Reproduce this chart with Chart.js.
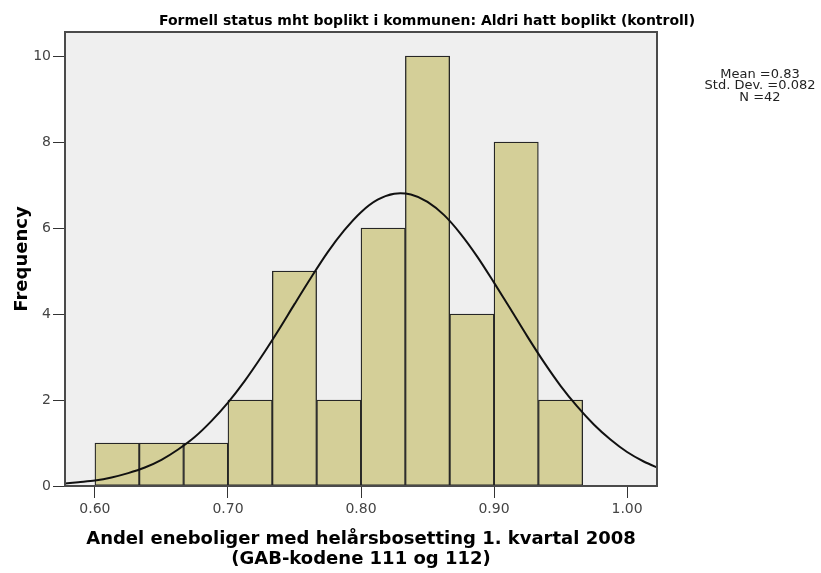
<!DOCTYPE html>
<html><head><meta charset="utf-8">
<script src="https://cdn.jsdelivr.net/npm/chart.js@4/dist/chart.umd.min.js"></script>
<style>html,body{margin:0;padding:0;background:#fff}#wrap{width:821px;height:573px}</style>
</head><body><div id="wrap"><canvas id="c" width="821" height="573"></canvas></div>
<script>
const chartTitle = 'Formell status mht boplikt i kommunen: Aldri hatt boplikt (kontroll)';
const xTitle = ['Andel eneboliger med helårsbosetting 1. kvartal 2008', '(GAB-kodene 111 og 112)'];
const yTitle = 'Frequency';
const statsLines = ['Mean =0.83', 'Std. Dev. =0.082', 'N =42'];

// histogram bins (edges) and counts
const binEdges = [0.6000, 0.6333, 0.6667, 0.7000, 0.7333, 0.7667, 0.8000, 0.8333, 0.8667, 0.9000, 0.9333, 0.9667];
const frequencies = [1, 1, 1, 2, 5, 2, 6, 10, 4, 8, 2];

// fitted normal curve
const curveX = [0.5750, 0.5875, 0.6000, 0.6125, 0.6250, 0.6375, 0.6500, 0.6625, 0.6750, 0.6875,
                0.7000, 0.7125, 0.7250, 0.7375, 0.7500, 0.7625, 0.7750, 0.7875, 0.8000, 0.8125,
                0.8250, 0.8375, 0.8500, 0.8625, 0.8750, 0.8875, 0.9000, 0.9125, 0.9250, 0.9375,
                0.9500, 0.9625, 0.9750, 0.9875, 1.0000, 1.0125, 1.0250];
const curveY = [0.05, 0.09, 0.13, 0.20, 0.30, 0.43, 0.61, 0.85, 1.14, 1.51,
                1.94, 2.44, 3.00, 3.60, 4.23, 4.85, 5.44, 5.95, 6.37, 6.66,
                6.80, 6.78, 6.61, 6.30, 5.86, 5.33, 4.73, 4.11, 3.48, 2.88,
                2.33, 1.85, 1.43, 1.08, 0.79, 0.57, 0.40];

const xTicks = [0.60, 0.70, 0.80, 0.90, 1.00];
const yTicks = [0, 2, 4, 6, 8, 10];

Chart.defaults.font.family = "'DejaVu Sans', sans-serif";

const deco = {
  id: 'deco',
  beforeDraw(chart) {
    const {ctx, chartArea: a} = chart;
    ctx.save();
    ctx.fillStyle = '#ffffff';
    ctx.fillRect(0, 0, chart.width, chart.height);
    ctx.fillStyle = '#efefef';
    ctx.fillRect(a.left, a.top, a.right - a.left, a.bottom - a.top);
    ctx.restore();
  },
  afterDraw(chart) {
    const {ctx, chartArea: a} = chart;
    ctx.save();
    ctx.strokeStyle = '#4a4a4a';
    ctx.lineWidth = 2;
    ctx.strokeRect(a.left, a.top, a.right - a.left, a.bottom - a.top);
    ctx.fillStyle = '#000';
    ctx.textAlign = 'center';
    ctx.textBaseline = 'alphabetic';
    ctx.font = "bold 14px 'DejaVu Sans'";
    ctx.fillText(chartTitle, 427, 25);
    ctx.fillStyle = '#222';
    ctx.font = "13px 'DejaVu Sans'";
    statsLines.forEach((t, i) => ctx.fillText(t, 760, 77.5 + i * 11.8));
    ctx.restore();
  }
};

new Chart(document.getElementById('c'), {
  type: 'bar',
  data: {
    datasets: [
      {
        type: 'line',
        order: 0,
        data: curveX.map((x, i) => ({x: x, y: curveY[i]})),
        borderColor: '#111',
        borderWidth: 2,
        pointRadius: 0,
        fill: false,
        tension: 0.3
      },
      {
        type: 'bar',
        order: 1,
        data: frequencies.map((f, i) => ({x: (binEdges[i] + binEdges[i + 1]) / 2, y: f})),
        backgroundColor: '#d4cf98',
        borderColor: '#262626',
        borderWidth: 1.3,
        borderSkipped: false,
        barPercentage: 1,
        categoryPercentage: 1
      }
    ]
  },
  options: {
    responsive: false,
    animation: false,
    devicePixelRatio: 1,
    layout: {padding: {left: 0, top: 32, right: 164, bottom: 0}},
    plugins: {legend: {display: false}, tooltip: {enabled: false}, title: {display: false}},
    scales: {
      x: {
        type: 'linear',
        min: 0.5775,
        max: 1.0225,
        offset: false,
        grid: {display: true, drawOnChartArea: false, drawTicks: true, tickLength: 12, color: '#333', offset: false},
        border: {display: false},
        ticks: {font: {size: 14}, color: '#444', padding: 3, callback: v => Number(v).toFixed(2)},
        afterBuildTicks: s => { s.ticks = xTicks.map(v => ({value: v})); },
        afterFit: s => { s.height = 87; },
        title: {display: true, text: xTitle, color: '#000', font: {size: 18, weight: 'bold', lineHeight: 1.11}, padding: {top: 0, bottom: 4}}
      },
      y: {
        type: 'linear',
        min: 0,
        max: 10.56,
        grid: {display: true, drawOnChartArea: false, drawTicks: true, tickLength: 12, color: '#333'},
        border: {display: false},
        ticks: {font: {size: 14}, color: '#444', padding: 2},
        afterBuildTicks: s => { s.ticks = yTicks.map(v => ({value: v})); },
        afterFit: s => { s.width = 65; },
        title: {display: true, text: yTitle, color: '#000', font: {size: 18, weight: 'bold', lineHeight: 1.11}, padding: {top: 12, bottom: 0}}
      }
    }
  },
  plugins: [deco]
});
</script>
</body></html>
